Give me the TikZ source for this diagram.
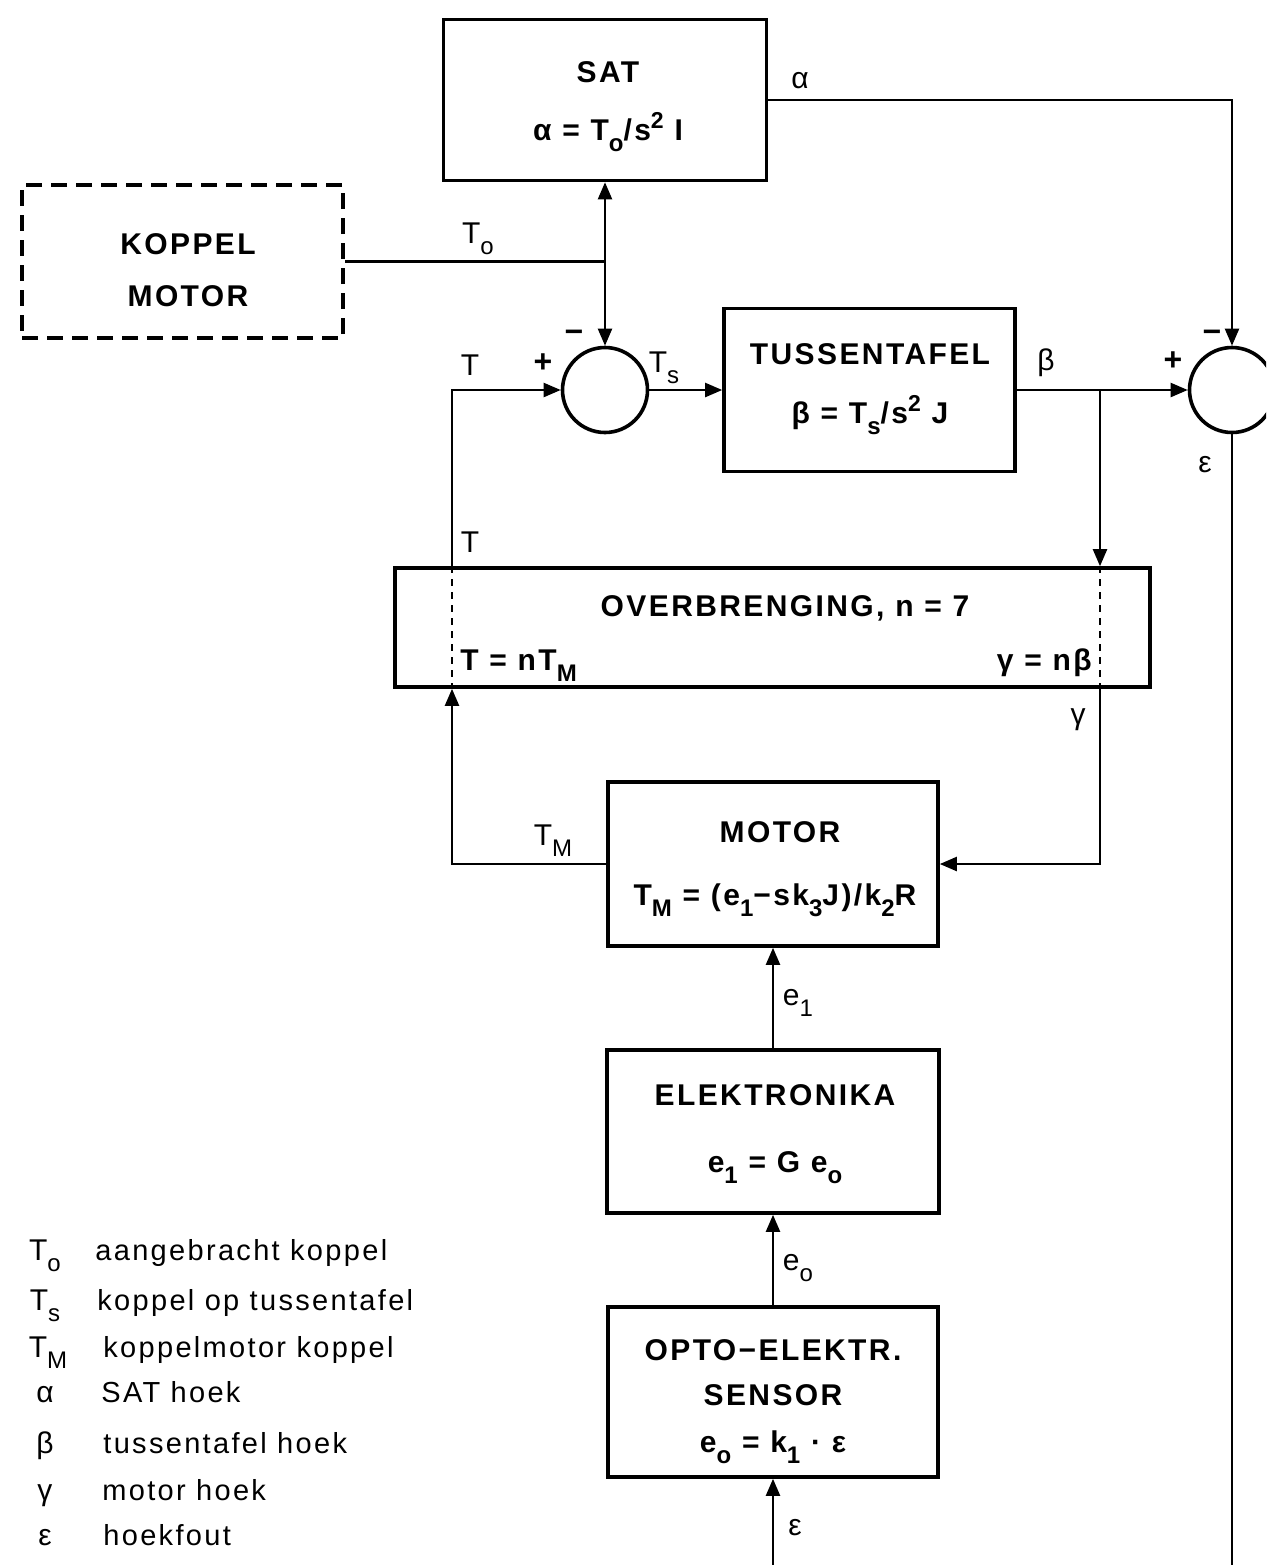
\documentclass[tikz,border=0pt]{standalone}
\usepackage{fontspec}
\setmainfont{Liberation Sans}[LetterSpace=8]
\usetikzlibrary{arrows.meta,calc}
\newcommand\lsub[1]{\raisebox{-0.7ex}{\fontsize{12}{13}\selectfont #1}}
\newcommand\lsup[1]{\raisebox{0.75ex}{\fontsize{11.5}{12}\selectfont #1}}
\begin{document}
\begin{tikzpicture}[x=0.5pt,y=-0.5pt,
  blk/.style={draw,line width=1.8pt,inner sep=0pt},
  sumc/.style={draw,circle,line width=1.8pt,minimum size=42.5pt,inner sep=0pt},
  wire/.style={line width=1.1pt},
  arr/.style={wire,-{Triangle[length=8.5pt,width=7pt]}},
  bt/.style={inner sep=0pt,anchor=base,font=\fontsize{15}{18}\selectfont\bfseries},
  lb/.style={inner sep=0pt,anchor=base,font=\fontsize{15}{17}\selectfont},
  lg/.style={inner sep=0pt,anchor=base west,font=\fontsize{14.5}{17}\selectfont},
  ls/.style={inner sep=0pt,anchor=base,font=\fontsize{16}{18}\selectfont\bfseries}]
\useasboundingbox (0,0) rectangle (1266,1565);
\clip (0,0) rectangle (1266,1565);
% blocks
\node[blk,minimum width=161.5pt,minimum height=80.5pt] (sat) at (605,100) {};
\node[blk,dash pattern=on 8pt off 4.5pt,line width=2.4pt,minimum width=160.5pt,minimum height=76.5pt] (kop) at (182.5,261.5) {};
\node[blk,minimum width=145.5pt,minimum height=81.5pt] (tus) at (869.5,390) {};
\node[blk,minimum width=377.5pt,minimum height=59.5pt] (ovb) at (772.5,627.5) {};
\node[blk,minimum width=165pt,minimum height=82pt] (mot) at (773,864) {};
\node[blk,minimum width=166pt,minimum height=81.5pt] (ele) at (773,1131.5) {};
\node[blk,minimum width=165pt,minimum height=85pt] (sen) at (773,1392) {};
\node[sumc] (s1) at (605,390) {};
\node[sumc] (s2) at (1232,390) {};
% coordinates
\coordinate (j1) at (605,261.5);
\coordinate (tcol) at (452,0);
\coordinate (b1) at (1100,390);
\coordinate (bot1) at (773,1565);
\coordinate (bot2) at (1232,1565);
% dashed lines in overbrenging
\draw[line width=0.9pt,dash pattern=on 3.5pt off 3pt] (ovb.north -| tcol) -- (ovb.south -| tcol);
\draw[line width=0.9pt,dash pattern=on 3.5pt off 3pt] (ovb.north -| b1) -- (ovb.south -| b1);
% connectors
\draw[arr] (sat.east) -| (s2.north);
\draw[wire] (kop.east) -- (j1);
\draw[arr] (j1) -- (sat.south);
\draw[arr] (j1) -- (s1.north);
\draw[arr] (ovb.north -| tcol) |- (s1.west);
\draw[arr] (s1.east) -- (tus.west);
\draw[arr] (tus.east) -- (s2.west);
\draw[arr] (b1) -- (ovb.north -| b1);
\draw[arr] (ovb.south -| b1) |- (mot.east);
\draw[arr] (mot.west) -| (ovb.south -| tcol);
\draw[arr] (ele.north) -- (mot.south);
\draw[arr] (sen.north) -- (ele.south);
\draw[arr] (bot1) -- (sen.south);
\draw[wire] (s2.south) -- (bot2);
% block texts
\node[bt] (satA) at (608,82) {SAT};
\node[bt] (satB) at (608,140) {α = T\lsub{o}/s\lsup{2} I};
\node[bt] (kopA) at (188,254) {KOPPEL};
\node[bt] (kopB) at (188,306) {MOTOR};
\node[bt] (tusA) at (870,364) {TUSSENTAFEL};
\node[bt] (tusB) at (870,423) {β = T\lsub{s}/s\lsup{2} J};
\node[bt] (ovbA) at (785,616) {OVERBRENGING, n = 7};
\node[bt,anchor=base west] (ovbB) at (460,670) {T = nT\lsub{M}};
\node[bt,anchor=base east] (ovbC) at (1092,670) {γ = nβ};
\node[bt] (motA) at (780,842) {MOTOR};
\node[bt] (motB) at (775,905) {T\lsub{M} = (e\lsub{1}−sk\lsub{3}J)/k\lsub{2}R};
\node[bt] (eleA) at (775,1105) {ELEKTRONIKA};
\node[bt] (eleB) at (775,1172) {e\lsub{1} = G e\lsub{o}};
\node[bt] (senA) at (773,1360) {OPTO−ELEKTR.};
\node[bt] (senB) at (773,1405) {SENSOR};
\node[bt] (senC) at (773,1452) {e\lsub{o} = k\lsub{1} · ε};
% connector labels
\node[lb] (lalpha) at (800,88) {α};
\node[lb] (lTo) at (478,243) {T\lsub{o}};
\node[lb] (lT1) at (470,375) {T};
\node[ls] (p1) at (543,372) {+};
\node[ls] (m1) at (574,342) {−};
\node[lb] (lTs) at (664,372) {T\lsub{s}};
\node[lb] (lbeta) at (1046,370) {β};
\node[ls] (p2) at (1173,370) {+};
\node[ls] (m2) at (1212,342) {−};
\node[lb] (leps1) at (1205,472) {ε};
\node[lb] (lT2) at (470,552) {T};
\node[lb] (lgam) at (1078,724) {γ};
\node[lb] (lTM) at (553,845) {T\lsub{M}};
\node[lb] (le1) at (798,1005) {e\lsub{1}};
\node[lb] (leo) at (798,1270) {e\lsub{o}};
\node[lb] (leps2) at (795,1535) {ε};
% legend
\node[lb] (gs1) at (45,1260) {T\lsub{o}};
\node[lb] (gs2) at (45,1310) {T\lsub{s}};
\node[lb] (gs3) at (48,1357) {T\lsub{M}};
\node[lb] (gs4) at (45,1402) {α};
\node[lb] (gs5) at (45,1453) {β};
\node[lb] (gs6) at (45,1500) {γ};
\node[lb] (gs7) at (45,1545) {ε};
\node[lg] (gt1) at (95,1260) {aangebracht koppel};
\node[lg] (gt2) at (97,1310) {koppel op tussentafel};
\node[lg] (gt3) at (103,1357) {koppelmotor koppel};
\node[lg] (gt4) at (101,1402) {SAT hoek};
\node[lg] (gt5) at (103,1453) {tussentafel hoek};
\node[lg] (gt6) at (102,1500) {motor hoek};
\node[lg] (gt7) at (103,1545) {hoekfout};
\end{tikzpicture}
\end{document}
